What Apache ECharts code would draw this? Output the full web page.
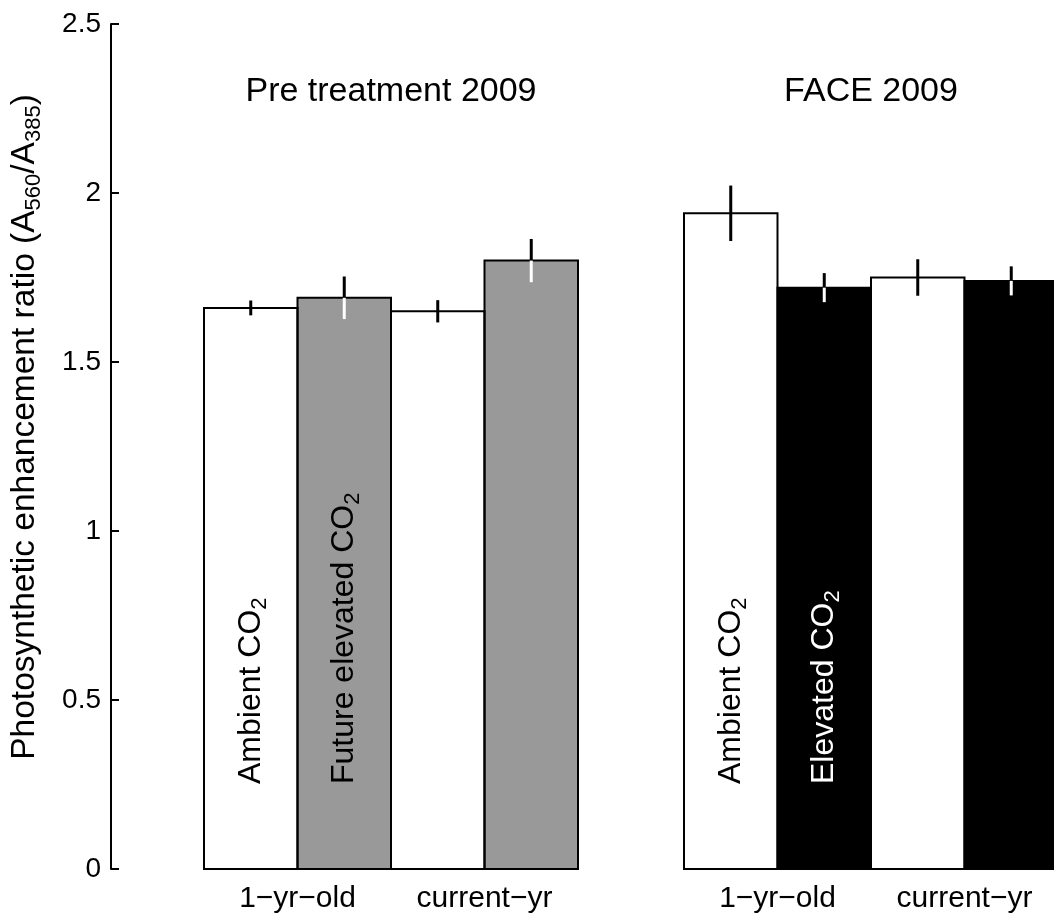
<!DOCTYPE html>
<html>
<head>
<meta charset="utf-8">
<title>Photosynthetic enhancement ratio</title>
<script src="https://cdn.jsdelivr.net/npm/echarts@6/dist/echarts.min.js"></script>
<style>
  html, body { margin: 0; padding: 0; background: #fff; }
  #chart { width: 1054px; height: 918px; }
</style>
</head>
<body>
<div id="chart"></div>
<script>
// Needle age classes (x categories, shared by both panels)
const categories = ['1\u2212yr\u2212old', 'current\u2212yr'];

// Panel headings
const panelTitles = ['Pre treatment 2009', 'FACE 2009'];

// Treatment names written inside the first pair of bars of each panel
const preTreatments = ['Ambient CO{sub|2}', 'Future elevated CO{sub|2}'];
const faceTreatments = ['Ambient CO{sub|2}', 'Elevated CO{sub|2}'];

// Mean enhancement ratio A560/A385 per age class
const preAmbient = [1.66, 1.65];
const preElevated = [1.69, 1.80];
const faceAmbient = [1.94, 1.75];
const faceElevated = [1.72, 1.74];

// Standard errors of the means
const preAmbientSE = [0.022, 0.033];
const preElevatedSE = [0.063, 0.064];
const faceAmbientSE = [0.082, 0.054];
const faceElevatedSE = [0.043, 0.043];

// Y axis ticks
const yTicks = [0, 0.5, 1, 1.5, 2, 2.5];

const FONT = "'Liberation Sans', Arial, Helvetica, sans-serif";
const subRich = {
  sub: { fontSize: 22, fontFamily: FONT, verticalAlign: 'top', lineHeight: 22, padding: [14, 0, 0, 0] }
};

function barLabel(text, color) {
  return {
    show: true,
    formatter: text,
    position: 'insideBottom',
    distance: 85,
    rotate: 90,
    align: 'left',
    verticalAlign: 'middle',
    fontSize: 32,
    lineHeight: 32,
    fontFamily: FONT,
    color: color,
    textBorderWidth: 0,
    rich: Object.assign({}, subRich, { sub: Object.assign({}, subRich.sub, { color: color }) })
  };
}

function barData(values, labelText, labelColor) {
  return values.map((v, i) => i === 0
    ? { value: v, label: barLabel(labelText, labelColor) }
    : { value: v });
}

// Bar fills (and the in-bar treatment names); outlines are stroked separately
function barSeries(gridIdx, values, fill, labelText, labelColor) {
  return {
    type: 'bar',
    xAxisIndex: gridIdx,
    yAxisIndex: gridIdx,
    barGap: '0%',
    barCategoryGap: '0%',
    silent: true,
    z: 2,
    itemStyle: { color: fill, borderWidth: 0 },
    label: { show: false },
    data: barData(values, labelText, labelColor)
  };
}

// Bar outline centred on the bar edges, so neighbouring bars share one line
function outlineSeries(gridIdx, values, side) {
  return {
    type: 'custom',
    xAxisIndex: gridIdx,
    yAxisIndex: gridIdx,
    silent: true,
    z: 3,
    data: values.map((v, i) => [i, v]),
    renderItem: function (params, api) {
      const cat = api.value(0), v = api.value(1);
      const band = api.size([1, 0])[0];
      const cx = api.coord([cat, v])[0] + side * band / 4;
      const yTop = api.coord([cat, v])[1];
      const yBase = api.coord([cat, 0])[1];
      return {
        type: 'rect',
        shape: { x: cx - band / 4, y: yTop, width: band / 2, height: yBase - yTop },
        style: { fill: 'none', stroke: '#000', lineWidth: 2 }
      };
    }
  };
}

// Error bar: black above the bar top, inner part coloured for contrast with the fill
function errorSeries(gridIdx, values, errs, side, innerColor) {
  return {
    type: 'custom',
    xAxisIndex: gridIdx,
    yAxisIndex: gridIdx,
    silent: true,
    z: 5,
    data: values.map((v, i) => [i, v, errs[i]]),
    renderItem: function (params, api) {
      const cat = api.value(0), v = api.value(1), e = api.value(2);
      const band = api.size([1, 0])[0];
      const x = api.coord([cat, v])[0] + side * band / 4;
      const yTop = api.coord([cat, v + e])[1];
      const yMid = api.coord([cat, v])[1];
      const yBot = api.coord([cat, v - e])[1];
      return {
        type: 'group',
        children: [
          { type: 'line', shape: { x1: x, y1: yTop, x2: x, y2: yMid }, style: { stroke: '#000', lineWidth: 3 } },
          { type: 'line', shape: { x1: x, y1: yMid, x2: x, y2: yBot }, style: { stroke: innerColor, lineWidth: 3 } }
        ]
      };
    }
  };
}

function xAxisFor(gridIdx) {
  return {
    type: 'category',
    gridIndex: gridIdx,
    data: categories,
    axisLine: { show: false },
    axisTick: { show: false },
    axisLabel: { fontSize: 30, fontFamily: FONT, color: '#000', margin: 15 }
  };
}

const chart = echarts.init(document.getElementById('chart'), null, { renderer: 'canvas' });

chart.setOption({
  animation: false,
  backgroundColor: '#fff',
  textStyle: { fontFamily: FONT },
  title: panelTitles.map((t, i) => ({
    text: t,
    left: i === 0 ? 391 : 871,
    top: 75,
    padding: 0,
    textAlign: 'center',
    textStyle: { fontSize: 34, fontWeight: 'normal', color: '#000', fontFamily: FONT }
  })),
  grid: [
    { left: 204, top: 24, width: 374, height: 845, outerBoundsMode: 'none', containLabel: false },
    { left: 684, top: 24, width: 374, height: 845, outerBoundsMode: 'none', containLabel: false }
  ],
  xAxis: [xAxisFor(0), xAxisFor(1)],
  yAxis: [
    {
      type: 'value',
      gridIndex: 0,
      min: yTicks[0],
      max: yTicks[yTicks.length - 1],
      interval: yTicks[1] - yTicks[0],
      offset: 93,
      splitLine: { show: false },
      axisLine: { show: true, lineStyle: { color: '#000', width: 2 } },
      axisTick: { show: true, inside: true, length: 8, lineStyle: { color: '#000', width: 2 } },
      axisLabel: { fontSize: 28, fontFamily: FONT, color: '#000', margin: 10,
                   formatter: v => String(v) }
    },
    {
      type: 'value',
      gridIndex: 1,
      min: yTicks[0],
      max: yTicks[yTicks.length - 1],
      interval: yTicks[1] - yTicks[0],
      show: false,
      splitLine: { show: false }
    }
  ],
  graphic: [
    {
      type: 'text',
      x: 25,
      y: 427,
      rotation: Math.PI / 2,
      silent: true,
      style: {
        text: 'Photosynthetic enhancement ratio (A{sub|560}/A{sub|385})',
        fontSize: 33.5,
        lineHeight: 33,
        fontFamily: FONT,
        fill: '#000',
        align: 'center',
        verticalAlign: 'middle',
        rich: subRich
      }
    }
  ],
  series: [
    barSeries(0, preAmbient, '#ffffff', preTreatments[0], '#000'),
    barSeries(0, preElevated, '#999999', preTreatments[1], '#000'),
    barSeries(1, faceAmbient, '#ffffff', faceTreatments[0], '#000'),
    barSeries(1, faceElevated, '#000000', faceTreatments[1], '#fff'),
    outlineSeries(0, preAmbient, -1),
    outlineSeries(0, preElevated, 1),
    outlineSeries(1, faceAmbient, -1),
    outlineSeries(1, faceElevated, 1),
    errorSeries(0, preAmbient, preAmbientSE, -1, '#000'),
    errorSeries(0, preElevated, preElevatedSE, 1, '#fff'),
    errorSeries(1, faceAmbient, faceAmbientSE, -1, '#000'),
    errorSeries(1, faceElevated, faceElevatedSE, 1, '#fff')
  ]
});
</script>
</body>
</html>
